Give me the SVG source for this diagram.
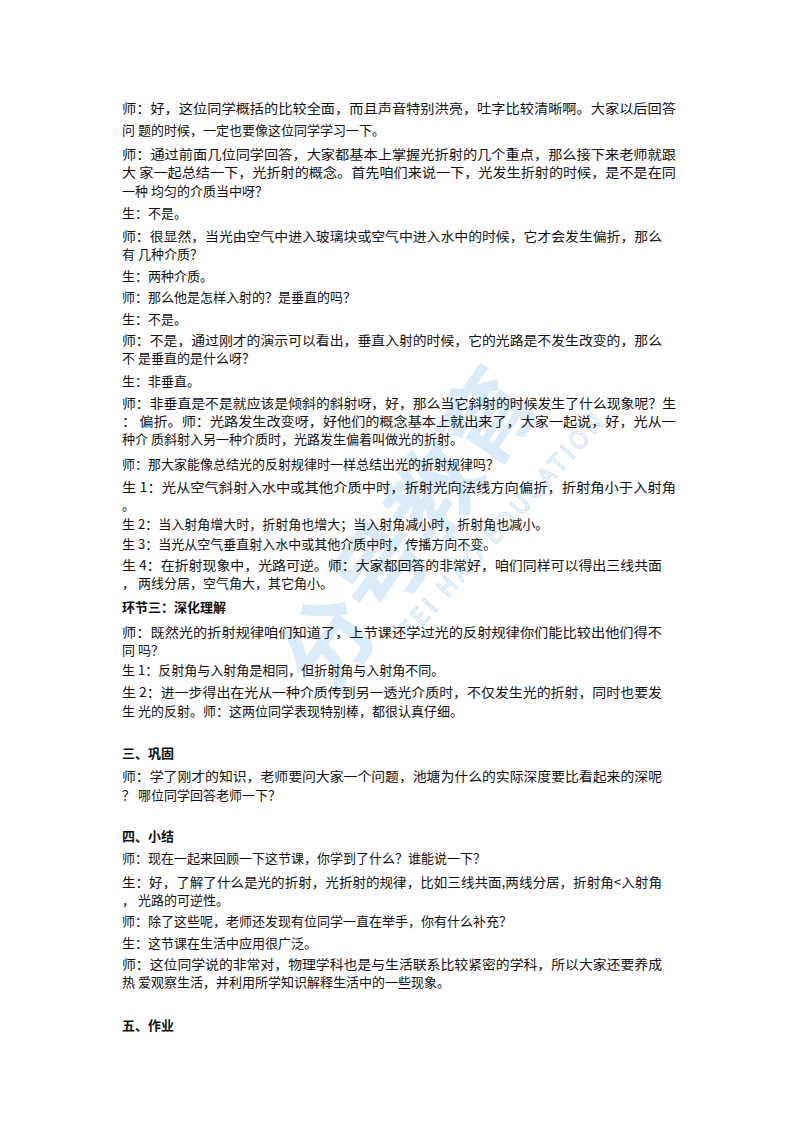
<svg xmlns="http://www.w3.org/2000/svg" width="800" height="1132" viewBox="0 0 800 1132">
<style>
text{font-family:"Noto Sans CJK SC","Liberation Sans",sans-serif;font-size:13px;fill:#111}
.b{font-weight:bold}
.wm{fill:#bcdcf5;opacity:.55;font-weight:bold;font-size:92px}
.wm2{fill:none;stroke:#bcdcf5;stroke-width:1;opacity:.8;font-size:24px}
</style>
<rect width="800" height="1132" fill="#fff"/>
<g id="watermark">
<text class="wm" transform="translate(330,700) rotate(-55)">分号教育</text>
<text class="wm2" transform="translate(410,640) rotate(-48)" letter-spacing="4">FEI HAO EDUCATION</text>
</g>
<g id="body" xml:space="preserve">
<text x="122" y="113" textLength="554" lengthAdjust="spacingAndGlyphs">师：好，这位同学概括的比较全面，而且声音特别洪亮，吐字比较清晰啊。大家以后回答</text>
<text x="122" y="135">问  题的时候，一定也要像这位同学学习一下。</text>
<text x="122" y="159" textLength="554" lengthAdjust="spacingAndGlyphs">师：通过前面几位同学回答，大家都基本上掌握光折射的几个重点，那么接下来老师就跟</text>
<text x="122" y="177" textLength="554" lengthAdjust="spacingAndGlyphs">大  家一起总结一下，光折射的概念。首先咱们来说一下，光发生折射的时候，是不是在同</text>
<text x="122" y="196">一种  均匀的介质当中呀？</text>
<text x="122" y="218">生：不是。</text>
<text x="122" y="241" textLength="540" lengthAdjust="spacingAndGlyphs">师：很显然，当光由空气中进入玻璃块或空气中进入水中的时候，它才会发生偏折，那么</text>
<text x="122" y="259">有  几种介质？</text>
<text x="122" y="281">生：两种介质。</text>
<text x="122" y="302">师：那么他是怎样入射的？是垂直的吗？</text>
<text x="122" y="324">生：不是。</text>
<text x="122" y="345" textLength="540" lengthAdjust="spacingAndGlyphs">师：不是，通过刚才的演示可以看出，垂直入射的时候，它的光路是不发生改变的，那么</text>
<text x="122" y="363">不  是垂直的是什么呀？</text>
<text x="122" y="386">生：非垂直。</text>
<text x="122" y="408" textLength="554" lengthAdjust="spacingAndGlyphs">师：非垂直是不是就应该是倾斜的斜射呀，好，那么当它斜射的时候发生了什么现象呢？生</text>
<text x="122" y="426" textLength="554" lengthAdjust="spacingAndGlyphs">：  偏折。师：光路发生改变呀，好他们的概念基本上就出来了，大家一起说，好，光从一</text>
<text x="122" y="444">种介  质斜射入另一种介质时，光路发生偏着叫做光的折射。</text>
<text x="122" y="469">师：那大家能像总结光的反射规律时一样总结出光的折射规律吗？</text>
<text x="122" y="492" textLength="554" lengthAdjust="spacingAndGlyphs">生 1：光从空气斜射入水中或其他介质中时，折射光向法线方向偏折，折射角小于入射角</text>
<text x="122" y="510">。</text>
<text x="122" y="529">生 2：当入射角增大时，折射角也增大；当入射角减小时，折射角也减小。</text>
<text x="122" y="549">生 3：当光从空气垂直射入水中或其他介质中时，传播方向不变。</text>
<text x="122" y="570" textLength="540" lengthAdjust="spacingAndGlyphs">生 4：在折射现象中，光路可逆。师：大家都回答的非常好，咱们同样可以得出三线共面</text>
<text x="122" y="588">，  两线分居，空气角大，其它角小。</text>
<text x="122" y="612" class="b">环节三：深化理解</text>
<text x="122" y="637" textLength="540" lengthAdjust="spacingAndGlyphs">师：既然光的折射规律咱们知道了，上节课还学过光的反射规律你们能比较出他们得不</text>
<text x="122" y="655">同  吗？</text>
<text x="122" y="675">生 1：反射角与入射角是相同，但折射角与入射角不同。</text>
<text x="122" y="697" textLength="540" lengthAdjust="spacingAndGlyphs">生 2：进一步得出在光从一种介质传到另一透光介质时，不仅发生光的折射，同时也要发</text>
<text x="122" y="716">生  光的反射。师：这两位同学表现特别棒，都很认真仔细。</text>
<text x="122" y="758" class="b">三、巩固</text>
<text x="122" y="781" textLength="540" lengthAdjust="spacingAndGlyphs">师：学了刚才的知识，老师要问大家一个问题，池塘为什么的实际深度要比看起来的深呢</text>
<text x="122" y="800">？  哪位同学回答老师一下？</text>
<text x="122" y="841" class="b">四、小结</text>
<text x="122" y="863">师：现在一起来回顾一下这节课，你学到了什么？谁能说一下？</text>
<text x="122" y="887" textLength="540" lengthAdjust="spacingAndGlyphs">生：好，了解了什么是光的折射，光折射的规律，比如三线共面,两线分居，折射角&lt;入射角</text>
<text x="122" y="905">，  光路的可逆性。</text>
<text x="122" y="926">师：除了这些呢，老师还发现有位同学一直在举手，你有什么补充？</text>
<text x="122" y="948">生：这节课在生活中应用很广泛。</text>
<text x="122" y="969" textLength="540" lengthAdjust="spacingAndGlyphs">师：这位同学说的非常对，物理学科也是与生活联系比较紧密的学科，所以大家还要养成</text>
<text x="122" y="987">热  爱观察生活，并利用所学知识解释生活中的一些现象。</text>
<text x="122" y="1030" class="b">五、作业</text>
</g>
</svg>
